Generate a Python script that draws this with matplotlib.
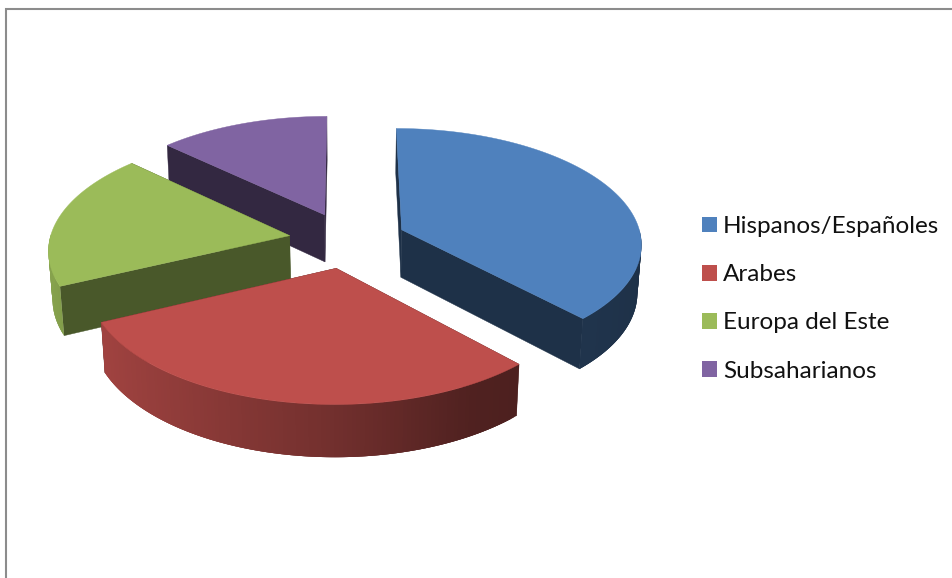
import numpy as np
import matplotlib
matplotlib.use("Agg")
import matplotlib.pyplot as plt
from matplotlib.patches import Patch
from matplotlib.collections import PolyCollection
from matplotlib.colors import to_rgb

labels = ["Hispanos/Españoles", "Arabes", "Europa del Este", "Subsaharianos"]
values = [38.0, 30.0, 19.0, 13.0]
colors = ["#4f81bd", "#be4f4c", "#9bbb59", "#8064a2"]
face_shades = [0.38, 0.40, 0.47, 0.40]

W, H = 953, 578
CX, CY = 347.5, 240
SCALE = 240.0
TILT = np.radians(28.5)
DIST = 8.0
EXPLODE = 0.245
THICK = 0.23

plt.rcParams["font.family"] = ["Lato", "DejaVu Sans"]
fig = plt.figure(figsize=(W / 100, H / 100), dpi=100)
ax = fig.add_axes([0, 0, 1, 1])
ax.set_xlim(0, W)
ax.set_ylim(H, 0)
ax.axis("off")


def project(u, v, z):
    w = DIST + v * np.cos(TILT) - z * np.sin(TILT)
    sy = v * np.sin(TILT) + z * np.cos(TILT)
    k = SCALE * DIST / w
    return CX + k * u, CY - k * sy


def shade(rgb, f):
    return tuple(c * f for c in rgb)


def wall_factor(u):
    return np.interp(u, [-1, 0, 0.5, 1], [0.87, 0.6, 0.42, 0.38])


fr = np.asarray(values, float) / np.sum(values)
ends = np.pi / 2 - 2 * np.pi * np.cumsum(fr)
starts = np.r_[np.pi / 2, ends[:-1]]

for i in [3, 2, 0, 1]:
    a0, a1 = starts[i], ends[i]
    mid = (a0 + a1) / 2
    ou, ov = EXPLODE * np.cos(mid), EXPLODE * np.sin(mid)
    ang = np.linspace(a0, a1, 121)
    u = ou + np.cos(ang)
    v = ov + np.sin(ang)
    rgb = to_rgb(colors[i])

    xt, yt = project(u, v, 0.0)
    xb, yb = project(u, v, -THICK)
    axt, ayt = project(ou, ov, 0.0)
    axb, ayb = project(ou, ov, -THICK)

    # the two cut faces
    for k in (0, -1):
        face = [(axt, ayt), (xt[k], yt[k]), (xb[k], yb[k]), (axb, ayb)]
        ax.fill(*zip(*face), color=shade(rgb, face_shades[i]), lw=0.3)

    # outer wall, only where it faces the viewer, shaded along the arc
    quads, cols = [], []
    for j in range(len(ang) - 1):
        am = (ang[j] + ang[j + 1]) / 2
        if np.sin(am) > 0:
            continue
        n = min(j + 3, len(ang) - 1)  # overlap neighbours so no seams show
        quads.append([(xt[j], yt[j]), (xt[j + 1], yt[j + 1]), (xt[n], yt[n]),
                      (xb[n], yb[n]), (xb[j + 1], yb[j + 1]), (xb[j], yb[j])])
        cols.append(shade(rgb, wall_factor(np.cos(am))))
    if quads:
        ax.add_collection(PolyCollection(quads, facecolors=cols, edgecolors="none",
                                         linewidths=0))

    # top surface
    ax.fill(np.r_[axt, xt], np.r_[ayt, yt], color=rgb, lw=0.3)

# chart frame
ax.plot([6, 6, W], [H, 9, 9], color="#8c8c8c", lw=1.5, solid_joinstyle="miter", clip_on=False)

handles = [Patch(facecolor=c, edgecolor="none", label=l) for c, l in zip(colors, labels)]
leg = ax.legend(handles=handles, loc="upper left", bbox_to_anchor=(702 / W, 1 - 216 / H),
                bbox_transform=fig.transFigure, frameon=False, fontsize=17.5,
                handlelength=0.62, handleheight=0.62, handletextpad=0.25,
                labelspacing=1.12, borderpad=0, borderaxespad=0, labelcolor="#111111")

fig.savefig("out.png", dpi=100)
